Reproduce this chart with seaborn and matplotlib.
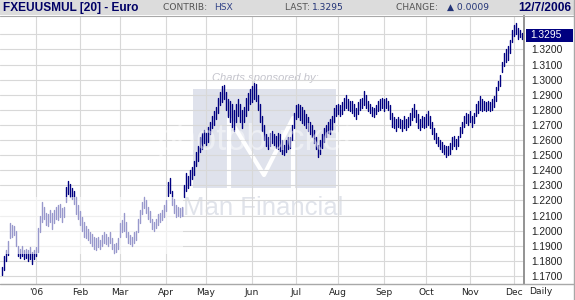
import numpy as np
import pandas as pd
import matplotlib
matplotlib.use("Agg")
import matplotlib.pyplot as plt
import seaborn as sns
from matplotlib.patches import Rectangle
from matplotlib.lines import Line2D

# ---------------- data (daily low / high, EUR/USD) ----------------
dec05_low = [1.1705, 1.1740, 1.1800, 1.1840, 1.1950, 1.1960, 1.1970, 1.1900, 1.1830, 1.1820,
             1.1830, 1.1810, 1.1820, 1.1800, 1.1810, 1.1780, 1.1810]
dec05_high = [1.1760, 1.1830, 1.1870, 1.1930, 1.2050, 1.2040, 1.2030, 1.2000, 1.1900, 1.1880,
              1.1900, 1.1870, 1.1880, 1.1870, 1.1890, 1.1860, 1.1870]
jan_low = [1.1830, 1.1860, 1.1990, 1.2060, 1.2080, 1.2040, 1.2030, 1.2060, 1.2010, 1.2050, 1.2080,
           1.2070, 1.2090, 1.2060, 1.2090, 1.2190, 1.2240, 1.2220, 1.2210, 1.2180, 1.2110, 1.2080]
jan_high = [1.1890, 1.2020, 1.2100, 1.2190, 1.2160, 1.2120, 1.2110, 1.2140, 1.2120, 1.2140, 1.2160,
            1.2170, 1.2180, 1.2150, 1.2160, 1.2290, 1.2326, 1.2310, 1.2280, 1.2260, 1.2220, 1.2170]
feb_low = [1.2040, 1.2000, 1.1960, 1.1950, 1.1940, 1.1920, 1.1900, 1.1880, 1.1870, 1.1890,
           1.1880, 1.1900, 1.1920, 1.1910, 1.1900, 1.1920, 1.1880, 1.1850, 1.1860, 1.1880]
feb_high = [1.2130, 1.2090, 1.2060, 1.2030, 1.2010, 1.1990, 1.1980, 1.1960, 1.1950, 1.1960,
            1.1940, 1.1970, 1.1990, 1.1980, 1.1960, 1.1990, 1.1950, 1.1910, 1.1920, 1.1950]
mar_low = [1.1960, 1.1990, 1.2000, 1.1960, 1.1920, 1.1910, 1.1900, 1.1920, 1.1940, 1.1990, 1.2050, 1.2110,
           1.2150, 1.2120, 1.2080, 1.2060, 1.2010, 1.2000, 1.2020, 1.2040, 1.2060, 1.2070, 1.2090]
mar_high = [1.2050, 1.2070, 1.2120, 1.2060, 1.1990, 1.1970, 1.1960, 1.1990, 1.2000, 1.2080, 1.2140, 1.2190,
            1.2220, 1.2200, 1.2160, 1.2130, 1.2080, 1.2060, 1.2080, 1.2110, 1.2120, 1.2140, 1.2170]
apr_low = [1.2130, 1.2230, 1.2250, 1.2170, 1.2120, 1.2090, 1.2100, 1.2090, 1.2100, 1.2220,
           1.2260, 1.2280, 1.2300, 1.2340, 1.2370, 1.2430, 1.2460, 1.2520, 1.2540, 1.2580]
apr_high = [1.2200, 1.2320, 1.2346, 1.2260, 1.2210, 1.2170, 1.2160, 1.2150, 1.2160, 1.2300,
            1.2380, 1.2360, 1.2400, 1.2420, 1.2460, 1.2520, 1.2560, 1.2620, 1.2650, 1.2670]
may_low = [1.2570, 1.2590, 1.2640, 1.2680, 1.2700, 1.2740, 1.2780, 1.2830, 1.2850, 1.2870, 1.2800, 1.2750,
           1.2720, 1.2690, 1.2660, 1.2720, 1.2760, 1.2720, 1.2680, 1.2720, 1.2760, 1.2800, 1.2840]
may_high = [1.2650, 1.2690, 1.2720, 1.2760, 1.2790, 1.2820, 1.2880, 1.2920, 1.2958, 1.2966, 1.2920, 1.2870,
            1.2860, 1.2840, 1.2800, 1.2840, 1.2870, 1.2840, 1.2800, 1.2820, 1.2880, 1.2910, 1.2940]
jun_low = [1.2850, 1.2870, 1.2860, 1.2800, 1.2720, 1.2660, 1.2600, 1.2560, 1.2540, 1.2560, 1.2580,
           1.2570, 1.2550, 1.2540, 1.2530, 1.2510, 1.2500, 1.2520, 1.2540, 1.2550, 1.2600, 1.2680]
jun_high = [1.2960, 1.2980, 1.2970, 1.2900, 1.2840, 1.2760, 1.2700, 1.2640, 1.2620, 1.2650, 1.2660,
            1.2640, 1.2630, 1.2650, 1.2640, 1.2600, 1.2570, 1.2600, 1.2620, 1.2620, 1.2700, 1.2780]
jul_low = [1.2740, 1.2750, 1.2730, 1.2710, 1.2700, 1.2680, 1.2660, 1.2640, 1.2620, 1.2580, 1.2540,
           1.2490, 1.2510, 1.2550, 1.2590, 1.2620, 1.2650, 1.2640, 1.2670, 1.2720, 1.2760]
jul_high = [1.2830, 1.2840, 1.2830, 1.2820, 1.2800, 1.2770, 1.2750, 1.2720, 1.2700, 1.2670, 1.2620,
            1.2570, 1.2600, 1.2640, 1.2680, 1.2700, 1.2720, 1.2740, 1.2760, 1.2810, 1.2830]
aug_low = [1.2770, 1.2760, 1.2770, 1.2800, 1.2810, 1.2800, 1.2790, 1.2780, 1.2760, 1.2740, 1.2770, 1.2800,
           1.2810, 1.2830, 1.2810, 1.2790, 1.2780, 1.2760, 1.2750, 1.2770, 1.2790, 1.2800, 1.2810]
aug_high = [1.2840, 1.2830, 1.2850, 1.2880, 1.2900, 1.2870, 1.2860, 1.2860, 1.2840, 1.2810, 1.2850, 1.2870,
            1.2880, 1.2925, 1.2900, 1.2860, 1.2840, 1.2820, 1.2810, 1.2830, 1.2860, 1.2870, 1.2880]
sep_low = [1.2790, 1.2810, 1.2800, 1.2740, 1.2690, 1.2680, 1.2660, 1.2690, 1.2680, 1.2660, 1.2680,
           1.2670, 1.2690, 1.2700, 1.2730, 1.2750, 1.2720, 1.2680, 1.2670, 1.2690, 1.2680]
sep_high = [1.2870, 1.2880, 1.2860, 1.2830, 1.2780, 1.2750, 1.2740, 1.2750, 1.2740, 1.2730, 1.2760,
            1.2740, 1.2750, 1.2780, 1.2810, 1.2840, 1.2800, 1.2770, 1.2740, 1.2760, 1.2750]
oct_low = [1.2690, 1.2700, 1.2680, 1.2640, 1.2610, 1.2580, 1.2560, 1.2540, 1.2520, 1.2510, 1.2490,
           1.2500, 1.2510, 1.2540, 1.2560, 1.2540, 1.2560, 1.2620, 1.2650, 1.2690, 1.2710, 1.2700]
oct_high = [1.2770, 1.2790, 1.2760, 1.2720, 1.2680, 1.2650, 1.2620, 1.2600, 1.2590, 1.2570, 1.2560,
            1.2560, 1.2580, 1.2620, 1.2630, 1.2610, 1.2630, 1.2690, 1.2720, 1.2760, 1.2780, 1.2770]
nov_low = [1.2720, 1.2690, 1.2710, 1.2760, 1.2780, 1.2800, 1.2790, 1.2800, 1.2790, 1.2800, 1.2790,
           1.2800, 1.2820, 1.2860, 1.2930, 1.2960, 1.3050, 1.3090, 1.3120, 1.3130, 1.3180, 1.3250]
nov_high = [1.2790, 1.2760, 1.2780, 1.2840, 1.2860, 1.2890, 1.2870, 1.2860, 1.2850, 1.2860, 1.2850,
            1.2870, 1.2890, 1.2950, 1.2990, 1.3030, 1.3120, 1.3180, 1.3200, 1.3220, 1.3260, 1.3330]
dec06_low = [1.3290, 1.3300, 1.3270, 1.3280, 1.3270]
dec06_high = [1.3360, 1.3374, 1.3340, 1.3330, 1.3310]

last_value = "1.3295"
header_title = "FXEUUSMUL [20] - Euro"
header_date = "12/7/2006"
y_ticks = [1.17, 1.18, 1.19, 1.20, 1.21, 1.22, 1.23, 1.24, 1.25, 1.26, 1.27, 1.28, 1.29,
           1.30, 1.31, 1.32, 1.33]

low = (dec05_low + jan_low + feb_low + mar_low + apr_low + may_low + jun_low + jul_low
       + aug_low + sep_low + oct_low + nov_low + dec06_low)
high = (dec05_high + jan_high + feb_high + mar_high + apr_high + may_high + jun_high + jul_high
        + aug_high + sep_high + oct_high + nov_high + dec06_high)
n = min(len(low), len(high))
low, high = low[:n], high[:n]
dates = pd.bdate_range("2005-12-08", periods=n)
idx = np.arange(n)

# ---------------- style ----------------
sns.set_style("white")
plt.rcParams["font.family"] = ["DejaVu Sans"]

W, H = 575, 300
NAVY = "#000080"
fig = plt.figure(figsize=(5.75, 3.0), dpi=100)
fig.patch.set_facecolor("white")


def fx(px):
    return px / W


def fy(py):
    return 1 - py / H


def val(py):
    return 1.17 + (276 - py) / 1510.0


ax = fig.add_axes([0, fy(284), fx(524), fy(16) - fy(284)])
ax.set_facecolor("white")
ax.set_xlim(-1, n)
ax.set_ylim(val(284), val(16))

# month ticks (first weekday of each month)
month_pos = [i for i in range(1, n) if dates[i].month != dates[i - 1].month]
month_lab = ["'06" if dates[i].month == 1 else dates[i].strftime("%b") for i in month_pos]
ax.set_xticks(month_pos)
ax.set_xticklabels(month_lab, fontsize=6.6, color="#222222")
ax.set_yticks(y_ticks)
ax.set_yticklabels(["%.4f" % v if v < 1.325 else "" for v in y_ticks],
                   fontsize=7.4, color="#222222", family="Liberation Sans")
ax.yaxis.tick_right()
ax.tick_params(axis="both", length=0)
ax.tick_params(axis="y", pad=5)
ax.tick_params(axis="x", pad=3)
ax.set_axisbelow(True)
ax.grid(True, color="#d8d8d8", linewidth=0.8)
for s in ["top", "left", "bottom"]:
    ax.spines[s].set_visible(False)
ax.spines["right"].set_color("#8a8a8a")
ax.spines["right"].set_linewidth(1.3)

# ---------------- watermark (behind bars) ----------------
ax.add_patch(Rectangle((fx(193), fy(188)), fx(336) - fx(193), fy(89) - fy(188),
                       transform=fig.transFigure, facecolor="#dfe2ec", edgecolor="none", zorder=0.2))
ax.add_line(Line2D([fx(229), fx(229), fx(264), fx(293), fx(293)],
                   [fy(188), fy(118), fy(175), fy(118), fy(188)],
                   transform=fig.transFigure, color="white", linewidth=3, zorder=0.3))
ax.text(fx(263), fy(208), "Man Financial", transform=fig.transFigure, fontsize=18.5,
        color="#e0e3ea", ha="center", va="center", family="Liberation Sans", zorder=0.3)
ax.text(fx(265), fy(78), "Charts sponsored by:", transform=fig.transFigure, fontsize=8,
        color="#c4c4cc", style="italic", ha="center", va="center", family="Liberation Sans",
        zorder=0.3)

# ---------------- OHLC bars (high-low ranges) ----------------
df = pd.DataFrame({
    "idx": np.repeat(idx, 2),
    "price": np.column_stack([low, high]).ravel(),
    "bar": np.repeat(idx, 2),
})
sns.lineplot(data=df, x="idx", y="price", units="bar", estimator=None, sort=False,
             color=NAVY, linewidth=1.0, ax=ax, legend=False)
ax.set_xlabel("")
ax.set_ylabel("")

# photobucket-like overlay
ax.add_patch(Rectangle((-1, val(254)), 91.5, val(197) - val(254), facecolor="white",
                       edgecolor="none", alpha=0.6, zorder=5))
fig.text(fx(255), fy(140), "photobucket", color="white", alpha=0.45, fontsize=26,
         ha="center", va="center", family="Liberation Sans", zorder=6)

# ---------------- header ----------------
fig.add_artist(Rectangle((0, fy(15)), 1, 15 / H, transform=fig.transFigure,
                         facecolor="#dcdcdc", edgecolor="none", zorder=1))
fig.add_artist(Line2D([0, 1], [fy(15.5), fy(15.5)], transform=fig.transFigure,
                      color="#a8a8a8", linewidth=0.8, zorder=2))
ty = fy(7.8)
fig.text(fx(3), ty, header_title, fontsize=8.6, weight="bold", color="#000066",
         family="Liberation Sans", ha="left", va="center", zorder=3)
fig.text(fx(163), ty, "CONTRIB: ", fontsize=6.6, color="#555555", ha="left", va="center", zorder=3)
fig.text(fx(214), ty, "HSX", fontsize=6.6, color="#334488", ha="left", va="center", zorder=3)
fig.text(fx(285), ty, "LAST: ", fontsize=6.6, color="#555555", ha="left", va="center", zorder=3)
fig.text(fx(312), ty, last_value, fontsize=6.6, color="#223377", ha="left", va="center", zorder=3)
fig.text(fx(396), ty, "CHANGE: ", fontsize=6.6, color="#555555", ha="left", va="center", zorder=3)
fig.text(fx(447), ty, "\u25b2 0.0009", fontsize=6.6, color="#223377", ha="left", va="center", zorder=3)
fig.text(fx(571), ty, header_date, fontsize=8.6, weight="bold", color="#000066",
         family="Liberation Sans", ha="right", va="center", zorder=3)

# last value highlight box
fig.add_artist(Rectangle((fx(525.5), fy(41.5)), fx(573) - fx(525.5), 13 / H,
                         transform=fig.transFigure, facecolor=NAVY, edgecolor="none", zorder=3))
fig.text(fx(530), fy(35), last_value, fontsize=7.4, color="white", family="Liberation Sans",
         ha="left", va="center", zorder=4)

# frame lines
fig.add_artist(Line2D([0, 1], [fy(284), fy(284)], transform=fig.transFigure,
                      color="#a8a8a8", linewidth=1.0, zorder=2))
fig.add_artist(Line2D([fx(574), fx(574)], [0, 1], transform=fig.transFigure,
                      color="#a8a8a8", linewidth=1.0, zorder=2))
fig.text(fx(541), fy(292), "Daily", fontsize=6.6, color="#222222", ha="center", va="center")

fig.savefig("out.png", dpi=100)
